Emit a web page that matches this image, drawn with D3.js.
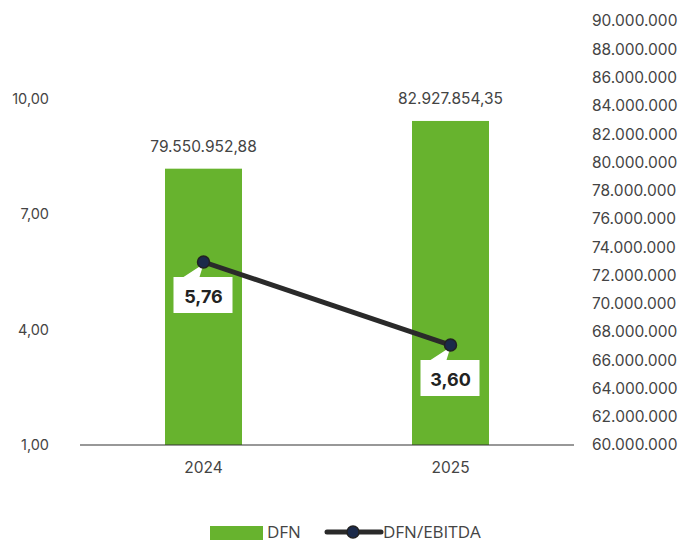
<!DOCTYPE html>
<html>
<head>
<meta charset="utf-8">
<script src="https://cdn.jsdelivr.net/npm/d3@7"></script>
<style>
  body { margin: 0; background: #fff; }
  svg { display: block; font-family: "Inter", "Open Sans", sans-serif; }
</style>
</head>
<body>
<svg id="chart" width="679" height="543"></svg>
<script>
const years = ["2024", "2025"];
const dfn = [79550952.88, 82927854.35];
const ratio = [5.76, 3.60];
const leftTicks = [1, 4, 7, 10];
const rightTicks = d3.range(60000000, 90000001, 2000000);

const green = "#67b32e";
const lineColor = "#2a2a2a";

const svg = d3.select("#chart");

const x = d3.scaleBand().domain(years).range([80, 574]).paddingInner(0).paddingOuter(0);
const yLeft = d3.scaleLinear().domain([1, 10]).range([445, 99]);
const yRight = d3.scaleLinear().domain([60000000, 90000000]).range([445, 21]);

// number format with dots for thousands and comma decimals
const locale = d3.formatLocale({ decimal: ",", thousands: ".", grouping: [3], currency: ["", "€"] });
const fmt0 = locale.format(",.0f");
const fmt2 = locale.format(",.2f");

// left axis
svg.append("g")
  .attr("transform", "translate(49,0)")
  .call(d3.axisLeft(yLeft).tickValues(leftTicks).tickSize(0).tickPadding(0).tickFormat(fmt2))
  .call(g => g.select(".domain").remove())
  .selectAll("text")
  .attr("font-size", 14.5).attr("fill", "#444").attr("font-family", "Inter, sans-serif");

// right axis
svg.append("g")
  .attr("transform", "translate(592,0)")
  .call(d3.axisRight(yRight).tickValues(rightTicks).tickSize(0).tickPadding(0).tickFormat(fmt0))
  .call(g => g.select(".domain").remove())
  .selectAll("text")
  .attr("font-size", 15.5).attr("fill", "#444").attr("font-family", "Inter, sans-serif");

const barW = 77;

// bars
svg.append("g").selectAll("rect")
  .data(years)
  .join("rect")
  .attr("x", (d) => x(d) + x.bandwidth() / 2 - barW / 2)
  .attr("width", barW)
  .attr("y", (d, i) => yRight(dfn[i]))
  .attr("height", (d, i) => yRight(60000000) - yRight(dfn[i]))
  .attr("fill", green);

// bar labels
svg.append("g").selectAll("text")
  .data(years)
  .join("text")
  .attr("x", (d) => x(d) + x.bandwidth() / 2)
  .attr("y", (d, i) => yRight(dfn[i]) - 17)
  .attr("text-anchor", "middle")
  .attr("font-size", 15.5)
  .attr("fill", "#444")
  .text((d, i) => fmt2(dfn[i]));

// x axis
svg.append("g")
  .attr("transform", "translate(0,445)")
  .call(d3.axisBottom(x).tickSize(0).tickPadding(17))
  .call(g => g.select(".domain").attr("stroke", "#333").attr("stroke-width", 1.2).attr("d", "M80,0H574"))
  .selectAll("text")
  .attr("font-size", 15.5).attr("fill", "#444").attr("font-family", "Inter, sans-serif");

// line
const pts = years.map((d, i) => [x(d) + x.bandwidth() / 2, yLeft(ratio[i])]);
svg.append("path")
  .attr("d", d3.line()(pts))
  .attr("fill", "none")
  .attr("stroke", lineColor)
  .attr("stroke-width", 5);

// value callouts
const callout = svg.append("g").selectAll("g")
  .data(pts)
  .join("g")
  .attr("transform", (d) => `translate(${d[0]},${d[1]})`);

callout.append("path")
  .attr("d", "M-30,15 H-20 L0,2 L-4,15 H29 V51 H-30 Z")
  .attr("fill", "#fff");

callout.append("text")
  .attr("x", 0)
  .attr("y", 41)
  .attr("text-anchor", "middle")
  .attr("font-size", 18)
  .attr("font-weight", "bold")
  .attr("fill", "#222")
  .text((d, i) => fmt2(ratio[i]));

callout.append("circle")
  .attr("r", 6)
  .attr("fill", "#1b2a4a")
  .attr("stroke", "#222")
  .attr("stroke-width", 1.5);

// legend
const legend = svg.append("g").attr("transform", "translate(0,532)");
legend.append("rect").attr("x", 210).attr("y", -6).attr("width", 53).attr("height", 14).attr("fill", green);
legend.append("text").attr("x", 267).attr("y", 6).attr("font-size", 17).attr("fill", "#444")
  .attr("font-family", "Open Sans, sans-serif").text("DFN");
legend.append("line").attr("x1", 327).attr("x2", 381).attr("y1", 0).attr("y2", 0)
  .attr("stroke", lineColor).attr("stroke-width", 5).attr("stroke-linecap", "round");
legend.append("circle").attr("cx", 353).attr("cy", 0).attr("r", 6)
  .attr("fill", "#1b2a4a").attr("stroke", "#222").attr("stroke-width", 1.5);
legend.append("text").attr("x", 383).attr("y", 6).attr("font-size", 17).attr("fill", "#444")
  .attr("font-family", "Open Sans, sans-serif").text("DFN/EBITDA");
</script>
</body>
</html>
